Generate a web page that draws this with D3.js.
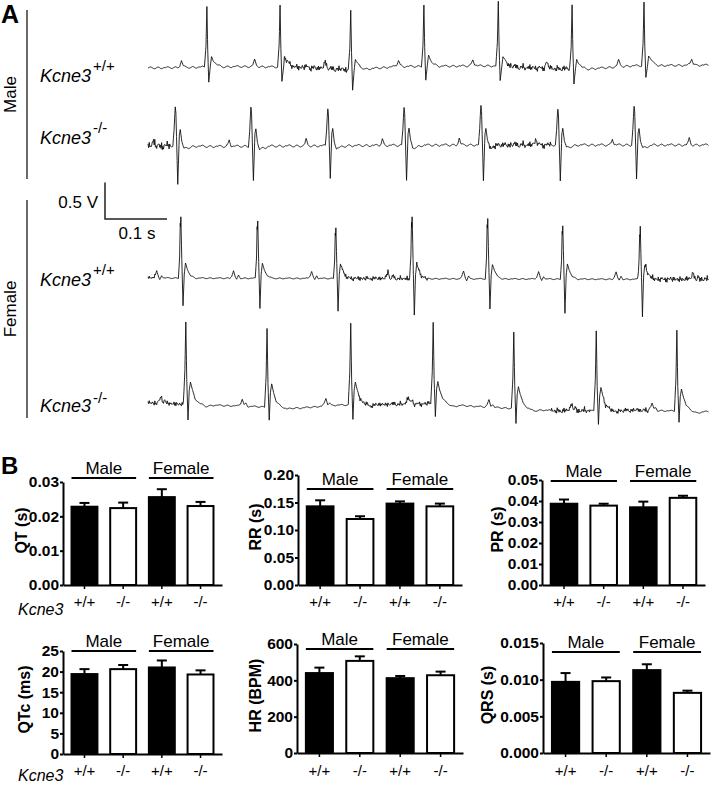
<!DOCTYPE html>
<html>
<head>
<meta charset="utf-8">
<script src="https://cdn.jsdelivr.net/npm/d3@7"></script>
<style>
  body { margin: 0; background: #fff; }
  text { font-family: Arial, "Liberation Sans", sans-serif; fill: #000; }
</style>
</head>
<body>
<div class="fig"></div>
<script>
// ---------- panel A: ECG traces (times in s, amplitudes in V) ----------
const ecgDomain = [0, 0.905];

// male +/+
const malePosBeats = [0.095, 0.213, 0.327, 0.445, 0.565, 0.684, 0.800, 0.918];
const malePosR = [0.84, 0.84, 0.82, 0.84, 0.88, 0.89, 0.86, 0.86];
const malePosS = [-0.21, -0.19, -0.26, -0.19, -0.19, -0.21, -0.16, -0.2];
const malePosShape = [[-0.048, 0], [-0.044, 0.02], [-0.041, 0.09], [-0.038, 0.02], [-0.034, 0],
  [-0.004, 0], [-0.0015, 0.35, "r"], [0, 1, "r"], [0.0013, 0.3, "r"], [0.003, 1, "s"], [0.0055, 0],
  [0.0075, 0.14], [0.0105, 0.09], [0.016, 0.03], [0.024, 0]];
const malePosDrift = [[0, 0], [0.15, 0.02], [0.25, 0.01], [0.33, -0.03], [0.40, 0.02], [0.55, 0.03],
  [0.62, 0], [0.70, -0.02], [0.78, 0.03], [0.905, 0.04]];
const malePosNoise = [[0.22, 0.32, 0.05], [0.58, 0.68, 0.05]];

// male -/-
const maleNegBeats = [0.044, 0.166, 0.290, 0.413, 0.537, 0.661, 0.784, 0.908];
const maleNegR = [0.52, 0.53, 0.52, 0.53, 0.53, 0.48, 0.53, 0.53];
const maleNegS = [-0.52, -0.48, -0.45, -0.48, -0.48, -0.48, -0.48, -0.48];
const maleNegShape = [[-0.040, 0], [-0.037, 0.03], [-0.035, 0.09], [-0.032, 0.01], [-0.029, 0],
  [-0.004, 0], [-0.002, 0.4, "r"], [-0.0008, 0.8, "r"], [0, 1, "r"], [0.001, 0.85, "r"], [0.004, 1, "s"],
  [0.0065, 0.16], [0.008, 0.23], [0.0105, 0.06], [0.014, -0.04], [0.022, -0.02], [0.032, 0]];
const maleNegDrift = [[0, -0.02], [0.04, -0.01], [0.1, -0.02], [0.5, 0], [0.905, 0]];
const maleNegNoise = [[0, 0.036, 0.07], [0.55, 0.65, 0.05]];

// female +/+
const femPosBeats = [0.053, 0.177, 0.303, 0.426, 0.548, 0.669, 0.794, 0.918];
const femPosR = [0.84, 0.79, 0.70, 0.85, 0.82, 0.73, 0.70, 0.8];
const femPosS = [-0.38, -0.41, -0.45, -0.48, -0.41, -0.47, -0.47, -0.45];
const femPosShape = [[-0.045, 0], [-0.042, 0.03], [-0.039, 0.10], [-0.036, 0.01], [-0.034, -0.02],
  [-0.031, 0.04], [-0.028, 0], [-0.004, 0], [-0.002, 0.35, "r"], [-0.001, 0.9, "r"], [-0.0005, 0.84, "r"],
  [0, 1, "r"], [0.0015, 0.3, "r"], [0.0035, 1, "s"], [0.0055, 0.05], [0.0075, 0.20], [0.0105, 0.12],
  [0.016, 0.03], [0.024, 0]];
const femPosDrift = [[0, 0], [0.905, -0.02]];
const femPosNoise = [[0, 0.012, 0.03], [0.31, 0.45, 0.04], [0.79, 0.905, 0.05]];

// female -/-
const femNegBeats = [0.061, 0.192, 0.327, 0.460, 0.590, 0.723, 0.853];
const femNegR = [1.12, 1.08, 1.12, 1.12, 1.04, 1.10, 1.11];
const femNegS = [-0.21, -0.18, -0.19, -0.18, -0.21, -0.19, -0.16];
const femNegShape = [[-0.047, 0], [-0.043, 0.03], [-0.040, 0.10], [-0.037, 0.02], [-0.034, 0.04],
  [-0.031, 0], [-0.004, 0], [-0.0015, 0.4, "r"], [0, 1, "r"], [0.0015, 0.3, "r"], [0.0035, 1, "s"],
  [0.0055, 0.2], [0.0075, 0.31], [0.0105, 0.2], [0.015, 0.08], [0.022, 0.02], [0.032, -0.02], [0.045, 0]];
const femNegDrift = [[0, 0], [0.245, -0.07], [0.30, -0.03], [0.46, -0.01], [0.535, -0.05], [0.665, -0.11],
  [0.794, -0.10], [0.905, -0.12]];
const femNegNoise = [[0, 0.06, 0.04], [0.34, 0.455, 0.04], [0.65, 0.713, 0.05], [0.734, 0.81, 0.04]];

// baseline ripple / jitter shapes (unitless)
const ripplePattern = [0.0, 0.6, 1.0, 0.5, -0.3, -0.9, -0.6, 0.2, 0.8, 0.4, -0.5, -1.0, -0.4, 0.3];
const jitterPattern = [0.5, -0.4, 0.9, -0.7, 0.2, -0.9, 0.7, -0.1, 0.4, -0.6, 1.0, -0.3, 0.1, -0.8, 0.6, -0.2, 0.8, -0.5];

// ---------- panel B: bar chart data (mean, SEM) ----------
const sexLabels = ["Male", "Female"];
const genotypeLabels = ["+/+", "-/-", "+/+", "-/-"];
const qtMean = [0.0228, 0.0224, 0.0256, 0.0230];
const qtSem = [0.0011, 0.0016, 0.0023, 0.0012];
const rrMean = [0.143, 0.120, 0.148, 0.143];
const rrSem = [0.011, 0.005, 0.004, 0.005];
const prMean = [0.0387, 0.0378, 0.0370, 0.0415];
const prSem = [0.0020, 0.0009, 0.0027, 0.0010];
const qtcMean = [19.4, 20.6, 21.0, 19.3];
const qtcSem = [1.2, 1.0, 1.7, 1.0];
const hrMean = [440, 507, 412, 428];
const hrSem = [30, 25, 12, 20];
const qrsMean = [0.0097, 0.0098, 0.0113, 0.0082];
const qrsSem = [0.0012, 0.0005, 0.0008, 0.0003];

var width = 714, height = 785;

var svg = d3.select(".fig")
  .append("svg")
  .attr("width", width)
  .attr("height", height);

// ================= Panel A =================
svg.append("text").attr("x", 1).attr("y", 23)
  .style("font-size", "25px").style("font-weight", "bold").text("A");

var x = d3.scaleLinear().domain(ecgDomain).range([148, 148 + 620 * ecgDomain[1]]);
var vPerPx = 73; // px per volt

var traces = [
  { base: 68, beats: malePosBeats, r: malePosR, s: malePosS, shape: malePosShape, drift: malePosDrift, noise: malePosNoise, ripple: 0.014 },
  { base: 145, beats: maleNegBeats, r: maleNegR, s: maleNegS, shape: maleNegShape, drift: maleNegDrift, noise: maleNegNoise, ripple: 0.016 },
  { base: 278, beats: femPosBeats, r: femPosR, s: femPosS, shape: femPosShape, drift: femPosDrift, noise: femPosNoise, ripple: 0.008 },
  { base: 403, beats: femNegBeats, r: femNegR, s: femNegS, shape: femNegShape, drift: femNegDrift, noise: femNegNoise, ripple: 0.01 }
];

function shapeValue(shape, dt, r, s) {
  if (dt < shape[0][0] || dt > shape[shape.length - 1][0]) return 0;
  const val = p => p[2] === "r" ? p[1] * r : p[2] === "s" ? p[1] * Math.abs(s) * -1 : p[1];
  for (let i = 1; i < shape.length; i++) {
    if (dt <= shape[i][0]) {
      const a = shape[i - 1], b = shape[i];
      const f = (dt - a[0]) / (b[0] - a[0] || 1);
      return val(a) + (val(b) - val(a)) * f;
    }
  }
  return 0;
}

function patternAt(pattern, t, step) {
  const k = t / step, i = Math.floor(k), f = k - i;
  const a = pattern[i % pattern.length], b = pattern[(i + 1) % pattern.length];
  return a + (b - a) * f;
}

traces.forEach(tr => {
  var y = d3.scaleLinear().domain([-1, 1]).range([tr.base + vPerPx, tr.base - vPerPx]);
  var drift = d3.scaleLinear().domain(tr.drift.map(d => d[0])).range(tr.drift.map(d => d[1])).clamp(true);

  var times = d3.range(ecgDomain[0], ecgDomain[1], 0.001);
  tr.beats.forEach(b => tr.shape.forEach(p => {
    const t = b + p[0];
    if (t >= ecgDomain[0] && t <= ecgDomain[1]) times.push(t);
  }));
  times.sort((a, b) => a - b);

  var pts = times.map(t => {
    let v = drift(t) + tr.ripple * patternAt(ripplePattern, t, 0.002);
    tr.noise.forEach(n => { if (t >= n[0] && t <= n[1]) v += n[2] * patternAt(jitterPattern, t, 0.0011); });
    tr.beats.forEach((b, i) => { v += shapeValue(tr.shape, t - b, tr.r[i], tr.s[i]); });
    return { t: t, v: v };
  });

  svg.append("path")
    .datum(pts)
    .attr("fill", "none")
    .attr("stroke", "#111")
    .attr("stroke-width", 0.9)
    .attr("stroke-linejoin", "round")
    .attr("d", d3.line().x(d => x(d.t)).y(d => y(d.v)));
});

// sex brackets
[{ label: "Male", y0: 10, y1: 179 }, { label: "Female", y0: 200, y1: 418 }].forEach(g => {
  svg.append("line").attr("x1", 27).attr("x2", 27).attr("y1", g.y0).attr("y2", g.y1)
    .attr("stroke", "#444").attr("stroke-width", 1.6);
  svg.append("text")
    .attr("transform", "translate(16," + (g.y0 + g.y1) / 2 + ") rotate(-90)")
    .attr("text-anchor", "middle").style("font-size", "17px").text(g.label);
});

// genotype labels
[{ y: 82, sup: "+/+", sy: 71 }, { y: 144, sup: "-/-", sy: 133 },
 { y: 286, sup: "+/+", sy: 275 }, { y: 412, sup: "-/-", sy: 403 }].forEach(d => {
  svg.append("text").attr("x", 40).attr("y", d.y)
    .style("font-size", "18px").style("font-style", "italic").text("Kcne3");
  svg.append("text").attr("x", 93).attr("y", d.sy)
    .style("font-size", "15px").text(d.sup);
});

// scale bar
var sbY = d3.scaleLinear().domain([0, 1]).range([219, 219 - vPerPx]);
var sbX0 = 105;
svg.append("path")
  .attr("d", "M" + sbX0 + "," + sbY(0.5) + "V" + sbY(0) + "H" + (sbX0 + x(0.1) - x(0)))
  .attr("fill", "none").attr("stroke", "#222").attr("stroke-width", 1.5);
svg.append("text").attr("x", 98).attr("y", 208).attr("text-anchor", "end")
  .style("font-size", "17px").text("0.5 V");
svg.append("text").attr("x", 137).attr("y", 239).attr("text-anchor", "middle")
  .style("font-size", "17px").text("0.1 s");

// ================= Panel B =================
svg.append("text").attr("x", 1).attr("y", 474)
  .style("font-size", "24px").style("font-weight", "bold").text("B");

var panels = [
  { title: "QT (s)", mean: qtMean, sem: qtSem, max: 0.03, step: 0.01, fmt: ".2f", x0: 63, x1: 222, yTop: 482, yBot: 585, groupY: 478, titleX: 21, tickY: 607, kcne3: 615 },
  { title: "RR (s)", mean: rrMean, sem: rrSem, max: 0.20, step: 0.05, fmt: ".2f", x0: 298, x1: 462, yTop: 475, yBot: 585, groupY: 489, titleX: 255, tickY: 607 },
  { title: "PR (s)", mean: prMean, sem: prSem, max: 0.05, step: 0.01, fmt: ".2f", x0: 542, x1: 705, yTop: 480, yBot: 585, groupY: 481, titleX: 497, tickY: 607 },
  { title: "QTc (ms)", mean: qtcMean, sem: qtcSem, max: 25, step: 5, fmt: "d", x0: 63, x1: 222, yTop: 651, yBot: 754, groupY: 651, titleX: 24, tickY: 776, kcne3: 781 },
  { title: "HR (BPM)", mean: hrMean, sem: hrSem, max: 600, step: 200, fmt: "d", x0: 297, x1: 463, yTop: 644, yBot: 753, groupY: 649, titleX: 255, tickY: 776 },
  { title: "QRS (s)", mean: qrsMean, sem: qrsSem, max: 0.015, step: 0.005, fmt: ".3f", x0: 543, x1: 710, yTop: 643, yBot: 753, groupY: 652, titleX: 487, tickY: 776 }
];

panels.forEach(p => {
  var g = svg.append("g");
  var y = d3.scaleLinear().domain([0, p.max]).range([p.yBot, p.yTop]);
  var xb = d3.scaleBand().domain(d3.range(4)).range([p.x0, p.x1]).paddingInner(0.33).paddingOuter(0.22);
  var bw = xb.bandwidth();

  // bars
  g.selectAll("rect").data(p.mean).enter().append("rect")
    .attr("x", (d, i) => xb(i))
    .attr("y", d => y(d))
    .attr("width", bw)
    .attr("height", d => p.yBot - y(d))
    .attr("fill", (d, i) => i % 2 === 0 ? "#000" : "#fff")
    .attr("stroke", "#000").attr("stroke-width", 2);

  // error bars (upper only)
  p.mean.forEach((m, i) => {
    var cx = xb(i) + bw / 2;
    g.append("line").attr("x1", cx).attr("x2", cx).attr("y1", y(m)).attr("y2", y(m + p.sem[i]))
      .attr("stroke", "#000").attr("stroke-width", 2);
    g.append("line").attr("x1", cx - 5).attr("x2", cx + 5).attr("y1", y(m + p.sem[i])).attr("y2", y(m + p.sem[i]))
      .attr("stroke", "#000").attr("stroke-width", 2);
  });

  // y axis
  var ya = g.append("g").attr("transform", "translate(" + p.x0 + ",0)")
    .call(d3.axisLeft(y).tickValues(d3.range(0, p.max + p.step / 2, p.step))
      .tickFormat(d3.format(p.fmt)).tickSize(3).tickSizeOuter(0).tickPadding(1));
  ya.select(".domain").attr("stroke-width", 2);
  ya.selectAll(".tick line").attr("stroke-width", 2);
  ya.selectAll("text").attr("font-family", null).style("font-size", "15.5px").style("font-weight", "bold");

  // x axis
  var xa = g.append("g").attr("transform", "translate(0," + p.yBot + ")")
    .call(d3.axisBottom(xb).tickFormat(i => genotypeLabels[i]).tickSize(4).tickSizeOuter(0).tickPadding(0));
  xa.select(".domain").attr("stroke-width", 2);
  xa.selectAll(".tick line").attr("stroke-width", 1.5);
  xa.selectAll("text").attr("font-family", null).attr("dy", null)
    .attr("y", p.tickY - p.yBot).style("font-size", "15px");

  // group bars
  sexLabels.forEach((s, k) => {
    var a = xb(2 * k), b = xb(2 * k + 1) + bw;
    g.append("line").attr("x1", a).attr("x2", b).attr("y1", p.groupY).attr("y2", p.groupY)
      .attr("stroke", "#000").attr("stroke-width", 2);
    g.append("text").attr("x", (a + b) / 2).attr("y", p.groupY - 4)
      .attr("text-anchor", "middle").style("font-size", "17px").text(s);
  });

  // y title
  g.append("text")
    .attr("transform", "translate(" + p.titleX + "," + ((p.yTop + p.yBot) / 2 - 3) + ") rotate(-90)")
    .attr("text-anchor", "middle").attr("dy", "0.35em")
    .style("font-size", "16px").style("font-weight", "bold").text(p.title);

  if (p.kcne3) {
    g.append("text").attr("x", 18).attr("y", p.kcne3)
      .style("font-size", "16px").style("font-style", "italic").text("Kcne3");
  }
});
</script>
</body>
</html>
